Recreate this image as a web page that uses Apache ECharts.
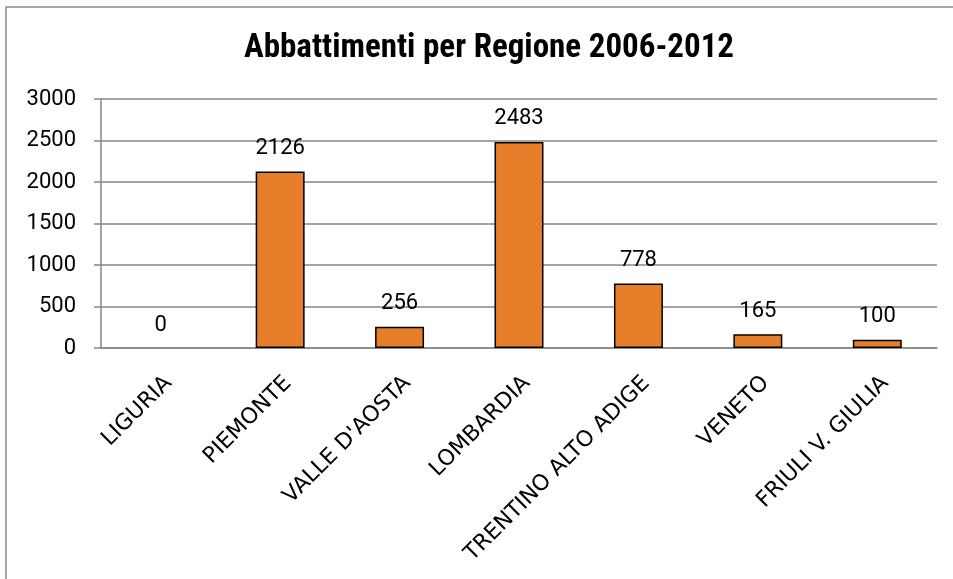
<!DOCTYPE html>
<html>
<head>
<meta charset="utf-8">
<script src="https://cdn.jsdelivr.net/npm/echarts@6/dist/echarts.min.js"></script>
<style>
  html, body { margin: 0; padding: 0; background: #fff; }
  #chart { width: 953px; height: 579px; }
</style>
</head>
<body>
<div id="chart"></div>
<script>
// Culls by region, 2006-2012
const regions = ['LIGURIA', 'PIEMONTE', "VALLE D'AOSTA", 'LOMBARDIA', 'TRENTINO ALTO ADIGE', 'VENETO', 'FRIULI V. GIULIA'];
const culls = [0, 2126, 256, 2483, 778, 165, 100];
const yTicks = { min: 0, max: 3000, interval: 500 };

const chart = echarts.init(document.getElementById('chart'), null, { renderer: 'canvas' });

// a zero-height bar gets no outline
const barData = culls.map(v => v === 0 ? { value: v, itemStyle: { borderWidth: 0 } } : v);

chart.setOption({
  backgroundColor: '#ffffff',
  animation: false,
  title: {
    text: 'Abbattimenti per Regione 2006-2012',
    left: 484,
    textAlign: 'center',
    top: 27,
    textStyle: {
      fontFamily: '"Liberation Sans Narrow", "Roboto Condensed", "Liberation Sans", sans-serif',
      fontWeight: 'bold',
      fontSize: 33,
      color: '#000'
    }
  },
  graphic: [{
    type: 'rect',
    shape: { x: 6, y: 7, width: 1000, height: 700 },
    style: { fill: 'none', stroke: '#8c8c8c', lineWidth: 1.5 },
    silent: true,
    z: -1
  }],
  grid: { left: 101, right: 16, top: 99, bottom: 231, containLabel: false },
  xAxis: {
    type: 'category',
    data: regions,
    axisLine: { show: true, lineStyle: { color: '#868686', width: 1.5 } },
    axisTick: { show: false },
    axisLabel: {
      interval: 0,
      rotate: 45,
      margin: 24,
      align: 'right',
      verticalAlign: 'top',
      lineHeight: 22,
      fontFamily: '"DejaVu Sans", sans-serif',
      fontSize: 22,
      color: '#000'
    }
  },
  yAxis: {
    type: 'value',
    min: yTicks.min,
    max: yTicks.max,
    interval: yTicks.interval,
    axisLine: { show: true, lineStyle: { color: '#868686', width: 1.5 } },
    axisTick: { show: true, length: 7, lineStyle: { color: '#868686', width: 1.5 } },
    splitLine: { show: true, lineStyle: { color: '#868686', width: 1.5 } },
    axisLabel: {
      margin: 25,
      formatter: v => String(v),
      fontFamily: 'Roboto, sans-serif',
      fontSize: 22,
      color: '#000'
    }
  },
  series: [{
    type: 'bar',
    data: barData,
    barWidth: '41%',
    itemStyle: { color: '#e67e2a', borderColor: '#000', borderWidth: 1.5 },
    label: {
      show: true,
      position: 'top',
      distance: 12,
      fontFamily: 'Roboto, sans-serif',
      fontSize: 22,
      color: '#000'
    }
  }]
});
</script>
</body>
</html>
